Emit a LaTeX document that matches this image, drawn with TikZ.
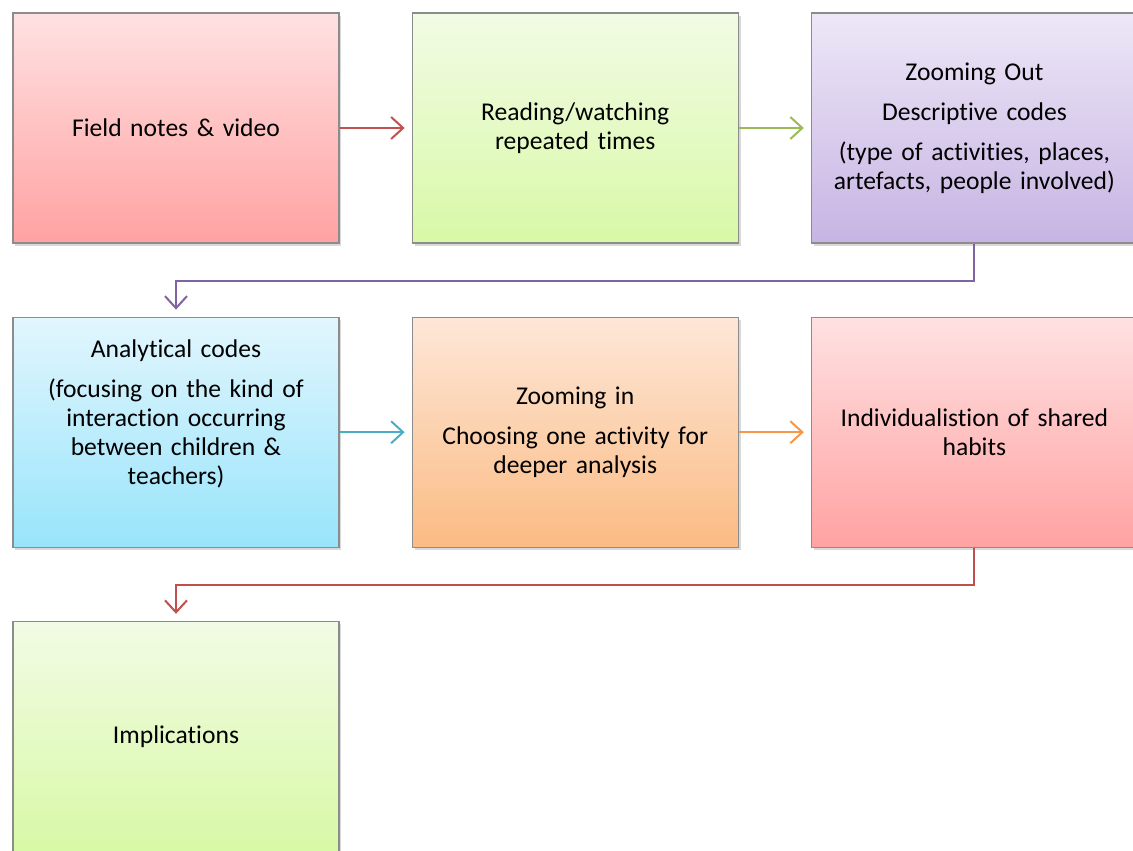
\documentclass[tikz,border=0pt]{standalone}
\usepackage{fontspec}
\setmainfont{Carlito}[Ligatures=NoCommon]
\usepackage{xcolor}
\usepackage{tikz}
\usetikzlibrary{positioning, arrows.meta, shadows}
\definecolor{boxgray}{HTML}{8C8C8C}
\definecolor{pinktop}{HTML}{FFE1E2}
\definecolor{pinkbot}{HTML}{FFA2A2}
\definecolor{greentop}{HTML}{F2FBE5}
\definecolor{greenbot}{HTML}{D8F9A6}
\definecolor{purpletop}{HTML}{EDE7F7}
\definecolor{purplebot}{HTML}{C7B4E3}
\definecolor{bluetop}{HTML}{E2F6FD}
\definecolor{bluebot}{HTML}{98E4FB}
\definecolor{orangetop}{HTML}{FDE7D8}
\definecolor{orangebot}{HTML}{FBBB83}
\definecolor{redline}{HTML}{C0504D}
\definecolor{greenline}{HTML}{9BBB59}
\definecolor{purpleline}{HTML}{8064A2}
\definecolor{blueline}{HTML}{4BACC6}
\definecolor{orangeline}{HTML}{F79646}

\begin{document}
\begin{tikzpicture}[
    stagebox/.style 2 args={draw=boxgray, line width=0.6pt, top color=#1, bottom color=#2,
      minimum width=163pt, minimum height=115pt, text width=157pt, align=center,
      inner sep=0pt, font=\fontsize{12.8}{14.5}\selectfont,
      drop shadow={shadow xshift=1.2pt, shadow yshift=-1.5pt, opacity=0.3}},
    flow/.style={draw=#1, line width=1pt, -{Straight Barb[length=6pt, width=11pt]},
      shorten >=3.5pt},
    node distance=36.5pt and 36pt]
  \clip (0,0) rectangle (566.5pt,-425pt);

  % first row
  \node[stagebox={pinktop}{pinkbot}] (notes) at (88pt,-64pt) {Field notes \& video};
  \node[stagebox={greentop}{greenbot}, right=of notes] (reading)
    {Reading/watching\\repeated times};
  \node[stagebox={purpletop}{purplebot}, right=of reading] (zoomout)
    {Zooming Out\\[5.5pt]Descriptive codes\\[5.5pt](type of activities, places,\\artefacts, people involved)};

  % second row
  \node[stagebox={bluetop}{bluebot}, below=of notes] (analytic)
    {Analytical codes\\[5.5pt](focusing on the kind of\\interaction occurring\\between children \&\\teachers)\\[5.5pt]\mbox{}};
  \node[stagebox={orangetop}{orangebot}, right=of analytic] (zoomin)
    {Zooming in\\[5.5pt]Choosing one activity for\\deeper analysis};
  \node[stagebox={pinktop}{pinkbot}, right=of zoomin] (habits)
    {Individualistion of shared\\habits};

  % third row
  \node[stagebox={greentop}{greenbot}, below=of analytic] (implic) {Implications};

  \draw[flow=redline] (notes) -- (reading);
  \draw[flow=greenline] (reading) -- (zoomout);
  \draw[flow=purpleline] (zoomout.south) -- ++(0,-18.75pt) -| (analytic.north);
  \draw[flow=blueline] (analytic) -- (zoomin);
  \draw[flow=orangeline] (zoomin) -- (habits);
  \draw[flow=redline] (habits.south) -- ++(0,-18.75pt) -| (implic.north);
\end{tikzpicture}
\end{document}
